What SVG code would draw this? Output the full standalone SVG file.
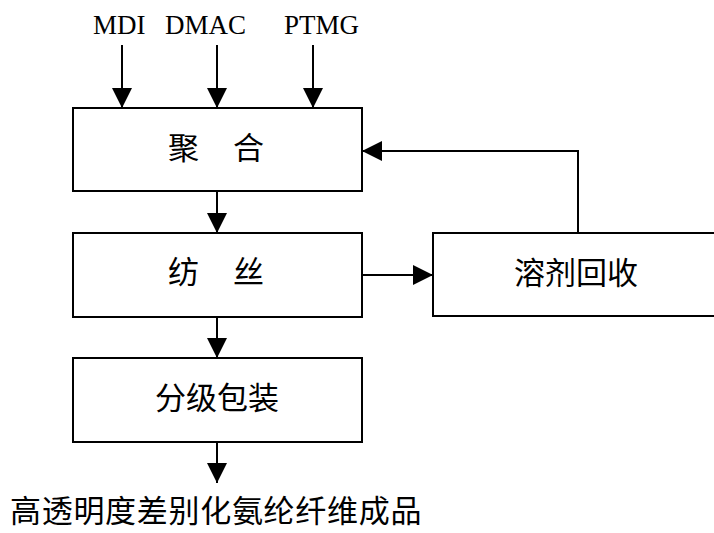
<svg xmlns="http://www.w3.org/2000/svg" width="714" height="533" viewBox="0 0 714 533">
<style>
.box{fill:#fff;stroke:#000;stroke-width:2}
.cn{font-family:"Noto Sans CJK SC","Noto Sans",sans-serif;font-size:31px;fill:#000}
.en{font-family:"Liberation Serif","Times New Roman",serif;font-size:27px;fill:#000}
.ln{stroke:#000;stroke-width:2;fill:none}
</style>
<defs>
<marker id="ah" markerUnits="userSpaceOnUse" markerWidth="20" markerHeight="20" refX="20" refY="10" orient="auto" viewBox="0 0 20 20">
<path d="M0,0 L20,10 L0,20 z" fill="#000"/>
</marker>
</defs>
<g id="labels">
<text class="en" x="93" y="34">MDI</text>
<text class="en" x="165" y="34">DMAC</text>
<text class="en" x="284" y="34">PTMG</text>
</g>
<g id="polymerize">
<rect class="box" x="73" y="108" width="289" height="83"/>
<text class="cn" x="168" y="159">聚</text>
<text class="cn" x="233" y="159">合</text>
</g>
<g id="spin">
<rect class="box" x="73" y="233" width="289" height="84"/>
<text class="cn" x="168" y="283">纺</text>
<text class="cn" x="233" y="283">丝</text>
</g>
<g id="recover">
<rect class="box" x="433" y="233" width="300" height="83"/>
<text class="cn" x="576" y="284" text-anchor="middle">溶剂回收</text>
</g>
<g id="package">
<rect class="box" x="73" y="358" width="289" height="84"/>
<text class="cn" x="217" y="409" text-anchor="middle">分级包装</text>
</g>
<g id="product">
<text class="cn" x="10" y="522" style="letter-spacing:0.7px">高透明度差别化氨纶纤维成品</text>
</g>
<g id="connectors">
<line class="ln" x1="122" y1="45" x2="122" y2="108" marker-end="url(#ah)"/>
<line class="ln" x1="217" y1="45" x2="217" y2="108" marker-end="url(#ah)"/>
<line class="ln" x1="313" y1="45" x2="313" y2="108" marker-end="url(#ah)"/>
<line class="ln" x1="217" y1="191" x2="217" y2="233" marker-end="url(#ah)"/>
<line class="ln" x1="217" y1="317" x2="217" y2="358" marker-end="url(#ah)"/>
<line class="ln" x1="217" y1="442" x2="217" y2="483" marker-end="url(#ah)"/>
<line class="ln" x1="362" y1="275" x2="433" y2="275" marker-end="url(#ah)"/>
<polyline class="ln" points="578,233 578,151 362,151" marker-end="url(#ah)"/>
</g>
</svg>
